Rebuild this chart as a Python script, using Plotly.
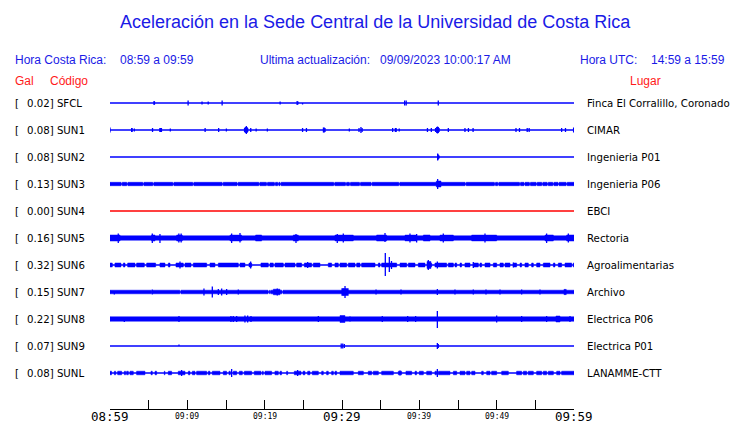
import plotly.graph_objects as go

# ---------------- data ----------------
codes = ["SFCL", "SUN1", "SUN2", "SUN3", "SUN4", "SUN5", "SUN6", "SUN7", "SUN8", "SUN9", "SUNL"]
gal_values = [0.02, 0.08, 0.08, 0.13, 0.00, 0.16, 0.32, 0.15, 0.22, 0.07, 0.08]
places = ["Finca El Corralillo, Coronado", "CIMAR", "Ingenieria P01", "Ingenieria P06", "EBCI",
          "Rectoria", "Agroalimentarias", "Archivo", "Electrica P06", "Electrica P01", "LANAMME-CTT"]
inactive = ["SUN4"]

# time axis: minutes after 08:59 local
tick_minutes = [0, 5, 10, 15, 20, 25, 30, 35, 40, 45, 50, 55, 60]
label_minutes = [0, 10, 20, 30, 40, 50, 60]
label_texts = ["08:59", "09:09", "09:19", "09:29", "09:39", "09:49", "09:59"]
label_major = [True, False, False, True, False, False, True]

# background noise band half-amplitude (relative units) for each station
band_amp = {"SFCL": 0, "SUN1": 0, "SUN2": 0, "SUN3": 1.7, "SUN4": 0, "SUN5": 2.2,
            "SUN6": 2.0, "SUN7": 1.8, "SUN8": 2.2, "SUN9": 0, "SUNL": 1.8}

# continuous bands: interruptions (minute)
band_gaps = {
    "SUN3": [1.51, 2.24, 4.31, 5.6, 8.19, 10.77, 14.57, 16.5, 19.31, 20.3, 21.33, 21.76, 22.06, 29.0,
             30.52, 31.03, 32.33, 33.83, 37.41, 45.99, 49.78, 50.21, 53.02, 53.6, 54.3, 55.17, 55.9,
             56.6, 57.33, 58.0, 59.05],
    "SUN5": [],
    "SUN7": [5.45, 9.1, 20.5, 20.7, 22.3],
    "SUN8": [],
}

# intermittent bands: active intervals (start, end) in minutes
band_segments = {
    "SUN6": [(0.0, 0.30), (0.64, 1.42), (1.72, 1.94), (2.28, 3.23), (3.44, 4.44), (4.74, 5.90),
             (6.46, 7.11), (7.54, 7.76), (8.53, 9.48), (9.70, 10.47), (10.77, 12.50), (12.93, 13.57),
             (14.01, 16.59), (16.81, 17.45), (17.97, 18.32), (19.52, 20.47), (20.69, 21.12),
             (21.33, 22.41), (22.63, 23.92), (24.13, 24.78), (25.13, 26.07), (26.29, 27.15),
             (28.23, 28.66), (29.09, 29.52), (29.74, 30.60), (30.82, 31.68), (31.90, 32.33),
             (32.54, 34.27), (34.70, 34.91), (35.13, 37.07), (37.50, 38.36), (38.58, 39.44),
             (39.87, 40.73), (41.03, 41.59), (42.02, 43.53), (43.75, 44.40), (44.61, 44.83),
             (45.26, 45.47), (45.90, 46.55), (46.98, 47.63), (47.84, 48.06), (48.49, 49.14),
             (49.57, 50.00), (50.43, 50.86), (51.08, 51.72), (52.16, 52.58), (53.02, 53.23),
             (53.66, 54.09), (54.52, 54.74), (55.17, 55.60), (56.03, 56.90), (57.33, 57.54),
             (57.97, 58.40), (58.84, 59.70), (59.91, 60.0)],
    "SUNL": [(0.0, 0.21), (0.56, 0.73), (0.99, 1.51), (1.85, 2.02), (2.15, 2.37), (2.58, 3.01),
             (3.44, 4.52), (5.30, 5.47), (5.82, 6.03), (7.02, 7.11), (7.54, 7.97), (8.83, 9.70),
             (10.13, 10.34), (10.64, 10.99), (11.20, 12.50), (12.71, 12.93), (13.23, 14.22),
             (14.65, 15.08), (15.38, 15.56), (15.94, 16.38), (16.72, 17.11), (17.37, 18.32),
             (18.66, 19.52), (19.70, 19.82), (20.04, 20.90), (21.33, 21.76), (21.98, 22.19),
             (22.84, 22.97), (23.83, 24.70), (24.96, 25.21), (25.56, 25.86), (26.16, 26.94),
             (27.37, 27.58), (28.01, 28.23), (28.66, 28.88), (29.09, 29.31), (29.74, 31.46),
             (32.11, 32.76), (33.40, 33.83), (34.05, 34.70), (35.13, 36.64), (37.28, 37.71),
             (38.27, 39.01), (39.44, 39.65), (40.00, 40.52), (40.95, 41.59), (42.02, 42.24),
             (42.46, 43.96), (44.40, 44.83), (45.26, 45.90), (46.12, 46.55), (46.77, 47.20),
             (48.06, 48.27), (48.71, 49.14), (49.35, 50.00), (50.65, 51.51), (52.58, 53.23),
             (53.45, 53.88), (54.09, 54.74), (55.17, 55.82), (56.03, 56.46), (56.68, 57.33),
             (57.76, 58.19), (58.40, 60.0)],
}

# stronger bursts: (start, end, half-amplitude)
bursts = {
    "SUN3": [(42.2, 42.8, 3.0)],
    "SUN5": [(0.0, 1.3, 3.0), (5.38, 5.82, 3.0), (8.62, 9.35, 3.0), (15.51, 17.02, 2.9),
             (18.83, 19.61, 3.0), (23.7, 24.35, 3.0), (29.09, 31.46, 2.9), (34.48, 35.77, 3.0),
             (38.15, 39.65, 2.9), (40.52, 41.38, 3.0), (42.67, 44.4, 2.9), (46.77, 50.0, 2.9),
             (56.25, 57.33, 3.0), (59.05, 60.0, 3.0)],
    "SUN6": [(41.0, 41.5, 3.5)],
    "SUN7": [(21.12, 21.98, 2.8), (29.96, 30.82, 3.5), (58.7, 59.0, 2.6)],
    "SUN8": [(29.74, 30.38, 3.5), (57.67, 58.19, 3.0)],
}

# individual peaks: (minute, up, down)
spikes = {
    "SFCL": [(5.7, 2, 2), (5.75, 1.5, 1.5), (10.1, 2.5, 2.5), (11.9, 1.5, 1.5), (12.7, 1.5, 1.5),
             (14.5, 2.5, 2.5), (22.0, 1.5, 1.5), (24.2, 2, 2), (24.3, 1.5, 1.5), (24.9, 0, 1.5),
             (38.1, 2.5, 2.5), (38.3, 2.5, 2.5), (42.45, 2.5, 2.5)],
    "SUN1": [(0.0, 2.5, 2.5), (2.8, 2, 2), (2.85, 2, 2), (3.15, 1.5, 1.5), (5.5, 2, 2), (6.45, 2, 2),
             (6.55, 2, 2), (6.65, 2, 2), (7.8, 1.5, 1.5), (12.3, 2, 2), (14.05, 2, 2), (15.05, 1.5, 1.5),
             (17.4, 2, 2), (17.5, 3, 3), (17.63, 4, 4), (17.72, 3, 3), (17.8, 2, 2), (18.2, 2, 2),
             (18.9, 1.5, 1.5), (20.35, 1.5, 1.5), (24.9, 2, 2), (25.4, 2, 2), (27.6, 2.5, 2.5),
             (27.7, 2.5, 2.5), (27.8, 2, 2), (30.95, 1.5, 1.5), (32.2, 2, 2), (32.45, 3, 3),
             (32.6, 2, 2), (36.55, 2, 2), (36.9, 2, 2), (37.0, 2, 2), (37.4, 1.5, 1.5), (41.05, 2, 2),
             (41.55, 2, 2), (42.1, 2, 2), (42.25, 3, 3), (42.35, 3.5, 3.5), (42.45, 3, 3),
             (42.55, 2, 2), (43.75, 2, 2), (45.9, 2, 2), (46.35, 2, 2), (46.95, 2, 2), (52.5, 2, 2),
             (52.95, 2, 2), (53.95, 2, 2), (54.2, 2, 2), (58.4, 2, 2), (58.9, 2, 2), (59.95, 2.5, 2.5)],
    "SUN2": [(42.37, 3.5, 3.5), (42.45, 2.5, 2.5), (42.55, 1.5, 1.5)],
    "SUN3": [(42.37, 5, 5)],
    "SUN4": [],
    "SUN5": [(1.07, 4.5, 5), (5.47, 4.5, 5), (6.46, 4, 5), (8.9, 4.5, 4.5), (9.2, 4.5, 4.5),
             (15.73, 4.5, 5), (16.81, 5, 4.5), (24.05, 4, 5), (29.39, 4, 5), (30.17, 4.5, 4.5),
             (35.56, 5, 4), (38.79, 4.5, 4.5), (39.65, 4, 4.5), (43.1, 4.5, 4.5), (48.49, 4.5, 4.5),
             (56.46, 4.5, 5), (59.27, 4.5, 4.5)],
    "SUN6": [(9.05, 3.5, 3.5), (18.19, 3.5, 3.5), (25.56, 3, 3), (35.6, 12, 11), (36.12, 8, 7),
             (36.4, 4, 4), (41.16, 5, 5), (42.33, 3.5, 3.5), (46.98, 3, 3), (52.16, 2.5, 2.5)],
    "SUN7": [(0.56, 0, 2.5), (5.47, 2.5, 2.5), (12.15, 3.5, 3.5), (13.23, 5.5, 5.5), (14.01, 3, 3),
             (14.44, 3.5, 3.5), (15.08, 3, 3), (16.59, 2.5, 2.5), (21.63, 3.5, 3.5), (30.17, 3.5, 3.5),
             (30.39, 6, 6), (34.4, 2.5, 2.5), (37.63, 2.5, 2.5), (42.33, 3, 3), (44.61, 2.5, 2.5),
             (46.98, 2.5, 2.5), (48.62, 2.5, 2.5), (50.43, 2.5, 2.5), (53.23, 2.5, 2.5),
             (55.6, 2.5, 2.5), (58.84, 2.5, 2.5)],
    "SUN8": [(1.85, 2, 3), (8.92, 3, 3), (15.64, 3, 3), (15.94, 3, 3), (16.38, 3, 3), (17.45, 3.5, 3.5),
             (17.8, 3.5, 3.5), (18.23, 3, 3), (26.94, 3, 3), (31.03, 2.5, 2.5), (35.21, 3, 3),
             (38.49, 3, 3), (39.52, 3, 3), (42.33, 8, 9), (50.0, 3.5, 3.5), (53.23, 3, 3),
             (56.46, 3, 3), (59.48, 3, 3)],
    "SUN9": [(8.92, 1.5, 0), (29.9, 2.5, 2.5), (30.1, 2.5, 2.5), (30.3, 2, 2), (42.33, 3, 3),
             (42.45, 2, 2)],
    "SUNL": [(9.26, 3, 3), (15.73, 4, 4), (24.26, 3, 3), (37.5, 2.5, 2.5), (42.33, 4, 4)],
}

# ---------------- styling / layout helpers ----------------
W, H = 740, 423
L, R, T, B = 110, 574, 90, 409          # plot area in pixels
ROW_PX = 27                              # pixels per station row
AMP = 1.0 / ROW_PX                       # amplitude unit -> row units
BLUE = "#0000ff"
RED = "#ff0000"
TXT_BLUE = "#1a1ae6"
TXT_RED = "#ff1a1a"
GAP_W = 0.14
DX = -1.5                                # compensate annotation text inset


def xp(px):
    return (px - L) / (R - L)


def yp(py):
    return (B - py) / (B - T)


fig = go.Figure()
t_start, t_end = tick_minutes[0], tick_minutes[-1]

for i, code in enumerate(codes):
    color = RED if code in inactive else BLUE
    fig.add_trace(go.Scatter(x=[t_start, t_end], y=[i, i], mode="lines",
                             line=dict(color=color, width=1.3), hoverinfo="skip", showlegend=False))
    segs = []
    hw = band_amp[code]
    if code in band_segments:
        segs = [(a, b, hw) for a, b in band_segments[code]]
    elif code in band_gaps and hw > 0:
        edges = [t_start]
        for g in band_gaps[code]:
            edges += [g - GAP_W / 2, g + GAP_W / 2]
        edges.append(t_end)
        segs = [(edges[k], edges[k + 1], hw) for k in range(0, len(edges), 2)]
    segs += bursts.get(code, [])
    if segs:
        xs, ys = [], []
        for a, b, h in segs:
            d = h * AMP
            xs += [a, b, b, a, a, None]
            ys += [i - d, i - d, i + d, i + d, i - d, None]
        fig.add_trace(go.Scatter(x=xs, y=ys, mode="lines", fill="toself", fillcolor=color,
                                 line=dict(color=color, width=0.5), hoverinfo="skip",
                                 showlegend=False))
    sp = spikes.get(code, [])
    if sp:
        xs, ys = [], []
        for t, up, dn in sp:
            xs += [t, t, None]
            ys += [i - up * AMP, i + dn * AMP, None]
        fig.add_trace(go.Scatter(x=xs, y=ys, mode="lines", line=dict(color=color, width=1.3),
                                 hoverinfo="skip", showlegend=False))

ann = []
for i, (code, g, place) in enumerate(zip(codes, gal_values, places)):
    py = 103 + ROW_PX * i
    ann.append(dict(x=xp(15 + DX), y=yp(py), text="["))
    ann.append(dict(x=xp(27.5 + DX), y=yp(py), text=f"{g:.2f}] {code}"))
    ann.append(dict(x=xp(587 + DX), y=yp(py), text=place))
for a in ann:
    a.update(xref="paper", yref="paper", showarrow=False, xanchor="left", yanchor="middle",
             borderpad=0, font=dict(family="DejaVu Sans", size=10.2, color="black"))

for m, txt, major in zip(label_minutes, label_texts, label_major):
    ann.append(dict(x=m, y=0, xref="x", yref="paper", yshift=-7.5 if major else -7,
                    text=txt, showarrow=False, xanchor="center", yanchor="middle", borderpad=0,
                    font=dict(family="DejaVu Sans Mono", size=12.5 if major else 8, color="black")))

header = [
    ("Aceleración en la Sede Central de la Universidad de Costa Rica", 375, 22, "center", 18, TXT_BLUE),
    ("Hora Costa Rica:", 15, 60.5, "left", 12, TXT_BLUE),
    ("08:59 a 09:59", 120, 60.5, "left", 12, TXT_BLUE),
    ("Ultima actualización:", 260.5, 60.5, "left", 12, TXT_BLUE),
    ("09/09/2023 10:00:17 AM", 380.5, 60.5, "left", 12, TXT_BLUE),
    ("Hora UTC:", 580.5, 60.5, "left", 12, TXT_BLUE),
    ("14:59 a 15:59", 651, 60.5, "left", 12, TXT_BLUE),
    ("Gal", 15, 80.5, "left", 12, TXT_RED),
    ("Código", 50.5, 80.5, "left", 12, TXT_RED),
    ("Lugar", 630.5, 80.5, "left", 12, TXT_RED),
]
for txt, px, py, anc, size, col in header:
    ann.append(dict(x=xp(px + (DX if anc == "left" else 0)), y=yp(py), xref="paper", yref="paper",
                    text=txt, showarrow=False, xanchor=anc, yanchor="middle", borderpad=0,
                    font=dict(family="Liberation Sans", size=size, color=col)))

top_val = -(103 - T) / ROW_PX
bot_val = top_val + (B - T) / ROW_PX

fig.update_layout(
    width=W, height=H,
    margin=dict(l=L, r=W - R, t=T, b=H - B, pad=0),
    paper_bgcolor="white", plot_bgcolor="white",
    showlegend=False,
    annotations=ann,
    xaxis=dict(range=[t_start, t_end], tickvals=tick_minutes, showticklabels=False,
               ticks="inside", ticklen=9, tickwidth=1, tickcolor="black",
               showline=True, linecolor="black", linewidth=1, showgrid=False, zeroline=False,
               fixedrange=True),
    yaxis=dict(range=[bot_val, top_val], showticklabels=False, showgrid=False, zeroline=False,
               showline=False, ticks="", fixedrange=True),
)

fig.write_html("out.html", config={"displayModeBar": False},
               post_script="document.body.style.margin='0';document.body.style.overflow='hidden';")
